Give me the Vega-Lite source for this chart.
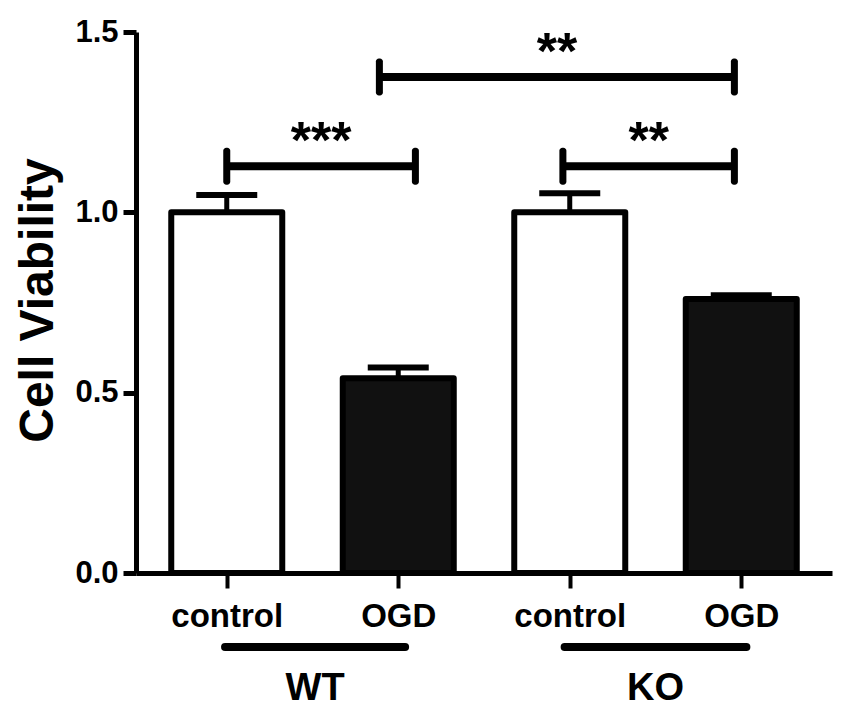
{
  "$schema": "https://vega.github.io/schema/vega-lite/v6.json",
  "width": 696,
  "height": 541,
  "autosize": {"type": "none"},
  "padding": {"left": 136, "top": 32, "right": 18, "bottom": 146},
  "background": "white",
  "config": {
    "view": {"stroke": null},
    "font": "Liberation Sans",
    "axis": {
      "grid": false,
      "domainColor": "black",
      "tickColor": "black",
      "labelColor": "black",
      "titleColor": "black",
      "labelFont": "Liberation Sans",
      "titleFont": "Liberation Sans",
      "labelFontWeight": "bold",
      "titleFontWeight": "bold"
    }
  },
  "datasets": {
    "bars": [
      {"genotype": "WT", "condition": "control", "pos": 0.5, "mean": 1.0, "upper": 1.048},
      {"genotype": "WT", "condition": "OGD", "pos": 1.5, "mean": 0.54, "upper": 0.57},
      {"genotype": "KO", "condition": "control", "pos": 2.5, "mean": 1.0, "upper": 1.053},
      {"genotype": "KO", "condition": "OGD", "pos": 3.5, "mean": 0.76, "upper": 0.77}
    ],
    "brackets": [
      {"comparison": "WT control vs WT OGD", "from": 0.5, "to": 1.6, "level": 1.128, "sig": "***"},
      {"comparison": "KO control vs KO OGD", "from": 2.46, "to": 3.46, "level": 1.128, "sig": "**"},
      {"comparison": "WT OGD vs KO OGD", "from": 1.39, "to": 3.46, "level": 1.375, "sig": "**"}
    ],
    "groups": [
      {"genotype": "WT", "from": 0.49, "to": 1.54},
      {"genotype": "KO", "from": 2.47, "to": 3.53}
    ]
  },
  "layer": [
    {
      "data": {"name": "bars"},
      "mark": {"type": "bar", "orient": "vertical", "width": 111, "stroke": "black", "strokeWidth": 6, "strokeJoin": "round"},
      "encoding": {
        "x": {
          "field": "pos",
          "type": "quantitative",
          "title": null,
          "scale": {"domain": [0, 4], "nice": false, "zero": false},
          "axis": {
            "values": [0.5, 1.5, 2.5, 3.5],
            "labelExpr": "datum.value % 2 < 1 ? 'control' : 'OGD'",
            "domainWidth": 5,
            "tickSize": 15,
            "tickWidth": 4,
            "labelFontSize": 33,
            "labelBaseline": "alphabetic",
            "labelPadding": 38
          }
        },
        "y": {
          "field": "mean",
          "type": "quantitative",
          "title": "Cell Viability",
          "stack": null,
          "scale": {"domain": [0, 1.5], "nice": false},
          "axis": {
            "values": [0, 0.5, 1, 1.5],
            "format": ".1f",
            "titleFontSize": 48,
            "titleX": -84,
            "titleY": 268,
            "titleBaseline": "alphabetic",
            "titleAlign": "center",
            "domainWidth": 5,
            "tickSize": 13,
            "tickWidth": 5,
            "labelFontSize": 31,
            "labelPadding": 5
          }
        },
        "fill": {
          "field": "condition",
          "type": "nominal",
          "scale": {"domain": ["control", "OGD"], "range": ["white", "#111111"]},
          "legend": null
        }
      }
    },
    {
      "data": {"name": "bars"},
      "mark": {"type": "rule", "color": "black", "strokeWidth": 5},
      "encoding": {
        "x": {"field": "pos", "type": "quantitative", "title": null},
        "y": {"field": "mean", "type": "quantitative", "title": "Cell Viability"},
        "y2": {"field": "upper"}
      }
    },
    {
      "data": {"name": "bars"},
      "mark": {"type": "tick", "orient": "horizontal", "color": "black", "opacity": 1, "size": 61, "thickness": 6},
      "encoding": {
        "x": {"field": "pos", "type": "quantitative", "title": null},
        "y": {"field": "upper", "type": "quantitative", "title": "Cell Viability"}
      }
    },
    {
      "data": {"name": "brackets"},
      "mark": {"type": "rule", "color": "black", "strokeWidth": 8},
      "encoding": {
        "x": {"field": "from", "type": "quantitative", "title": null},
        "x2": {"field": "to"},
        "y": {"field": "level", "type": "quantitative", "title": "Cell Viability"}
      }
    },
    {
      "data": {"name": "brackets"},
      "mark": {"type": "tick", "orient": "vertical", "color": "black", "opacity": 1, "size": 37, "thickness": 7, "cornerRadius": 3},
      "encoding": {
        "x": {"field": "from", "type": "quantitative", "title": null},
        "y": {"field": "level", "type": "quantitative", "title": "Cell Viability"}
      }
    },
    {
      "data": {"name": "brackets"},
      "mark": {"type": "tick", "orient": "vertical", "color": "black", "opacity": 1, "size": 37, "thickness": 7, "cornerRadius": 3},
      "encoding": {
        "x": {"field": "to", "type": "quantitative", "title": null},
        "y": {"field": "level", "type": "quantitative", "title": "Cell Viability"}
      }
    },
    {
      "data": {"name": "brackets"},
      "transform": [{"calculate": "(datum.from + datum.to) / 2", "as": "mid"}],
      "mark": {"type": "text", "fontSize": 52, "fontWeight": "bold", "baseline": "middle", "dy": -24, "color": "black"},
      "encoding": {
        "x": {"field": "mid", "type": "quantitative", "title": null},
        "y": {"field": "level", "type": "quantitative", "title": "Cell Viability"},
        "text": {"field": "sig"}
      }
    },
    {
      "data": {"name": "groups"},
      "mark": {"type": "rule", "color": "black", "strokeWidth": 8, "strokeCap": "round"},
      "encoding": {
        "x": {"field": "from", "type": "quantitative", "title": null},
        "x2": {"field": "to"},
        "y": {"datum": -0.205, "type": "quantitative", "title": "Cell Viability"}
      }
    },
    {
      "data": {"name": "groups"},
      "transform": [{"calculate": "(datum.from + datum.to) / 2", "as": "mid"}],
      "mark": {"type": "text", "fontSize": 38, "fontWeight": "bold", "baseline": "alphabetic", "color": "black"},
      "encoding": {
        "x": {"field": "mid", "type": "quantitative", "title": null},
        "y": {"datum": -0.352, "type": "quantitative", "title": "Cell Viability"},
        "text": {"field": "genotype"}
      }
    }
  ]
}
